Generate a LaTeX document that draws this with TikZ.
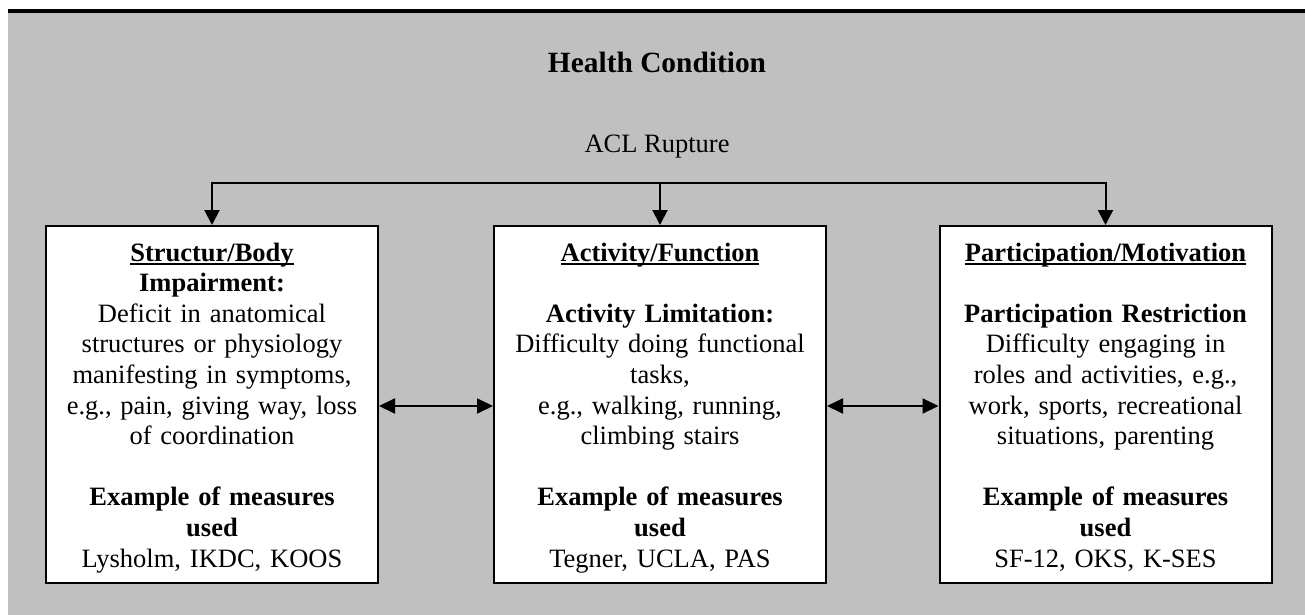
\documentclass[tikz,border=0pt]{standalone}
\usepackage{fontspec}
\setmainfont{Liberation Serif}
\usepackage{tikz}
\usetikzlibrary{arrows.meta,positioning,calc}
\definecolor{bggray}{RGB}{192,192,192}
\newlength\ulheadwd
\newcommand{\ulhead}[1]{\settowidth{\ulheadwd}{#1}\rlap{\rule[-1.8pt]{\ulheadwd}{0.8pt}}#1}

\begin{document}
\begin{tikzpicture}[x=0.5pt, y=-0.5pt,
    box/.style={draw, line width=1pt, fill=white, anchor=north, minimum width=166pt, text width=166pt,
        inner sep=0pt, text height=17.5pt, text depth=161pt, align=center,
        font=\fontsize{13.25}{15.3}\selectfont},
    arr/.style={-{Triangle[length=7.5pt,width=7.5pt]}, line width=1pt},
    dbl/.style={{Triangle[length=8pt,width=7.5pt]}-{Triangle[length=8pt,width=7.5pt]}, line width=1pt}
]
\useasboundingbox (0,0) rectangle (1305,615);
\fill[black] (8,9) rectangle (1305,13);
\fill[bggray] (8,13) rectangle (1305,615);

\node[anchor=base, font=\fontsize{14.7}{17}\selectfont\bfseries] (health) at (657,73) {Health Condition};
\node[anchor=base, font=\fontsize{13.25}{15.3}\selectfont] (acl) at (657,152) {ACL Rupture};

\node[box] (body) at (212,225) {\textbf{\ulhead{Structur/Body}}\\ \textbf{Impairment:}\\ Deficit in anatomical\\ structures or physiology\\ manifesting in symptoms,\\ e.g., pain, giving way, loss\\ of coordination\\[15.3pt] \textbf{Example of measures}\\ \textbf{used}\\ Lysholm, IKDC, KOOS};
\node[box] (act) at (660,225) {\textbf{\ulhead{Activity/Function}}\\[15.3pt] \textbf{Activity Limitation:}\\ Difficulty doing functional\\ tasks,\\ e.g., walking, running,\\ climbing stairs\\[15.3pt] \textbf{Example of measures}\\ \textbf{used}\\ Tegner, UCLA, PAS};
\node[box] (part) at (1105.5,225) {\textbf{\ulhead{Participation/Motivation}}\\[15.3pt] \textbf{Participation Restriction}\\ Difficulty engaging in\\ roles and activities, e.g.,\\ work, sports, recreational\\ situations, parenting\\[15.3pt] \textbf{Example of measures}\\ \textbf{used}\\ SF-12, OKS, K-SES};

\coordinate (bus) at (660,183);
\coordinate (mid) at (660,406);

\draw[arr] (bus) -| (body.north);
\draw[arr] (bus) -- (act.north);
\draw[arr] (bus) -| (part.north);
\draw[dbl] (mid -| body.east) -- (mid -| act.west);
\draw[dbl] (mid -| act.east) -- (mid -| part.west);
\end{tikzpicture}
\end{document}
